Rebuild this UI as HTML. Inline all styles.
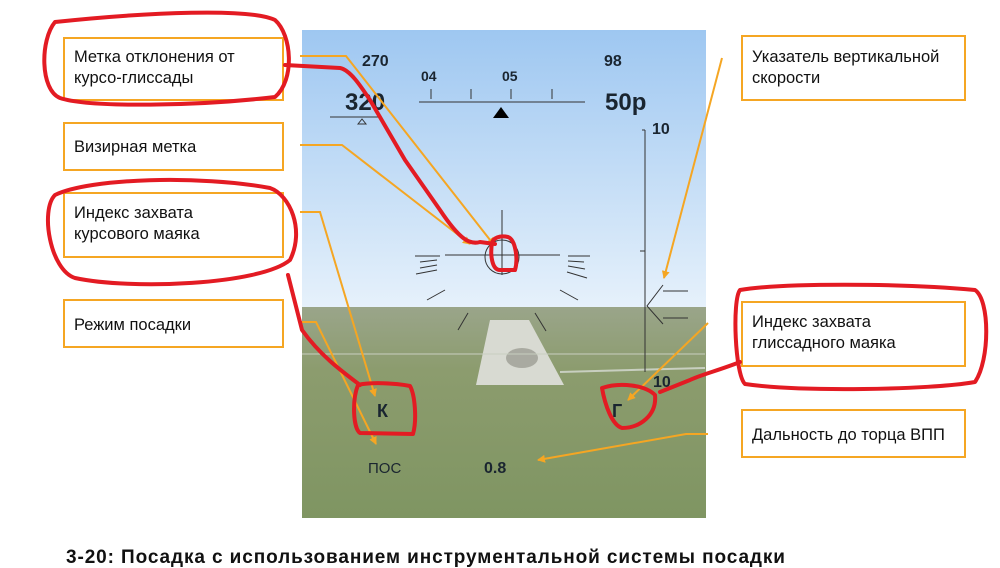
<!DOCTYPE html>
<html><head><meta charset="utf-8"><style>
body{margin:0;width:1000px;height:568px;background:#fff;overflow:hidden;font-family:"Liberation Sans","DejaVu Sans",sans-serif}
svg{position:absolute;left:0;top:0}
</style></head><body>
<svg width="1000" height="568" viewBox="0 0 1000 568">
<defs>
<linearGradient id="sky" x1="0" y1="0" x2="0" y2="1">
<stop offset="0" stop-color="#9ec7f1"/><stop offset="1" stop-color="#e6f1fb"/></linearGradient>
<linearGradient id="gr" x1="0" y1="0" x2="0" y2="1">
<stop offset="0" stop-color="#9aa58a"/><stop offset="0.3" stop-color="#8c9c6e"/><stop offset="1" stop-color="#7f9562"/></linearGradient>
<marker id="ar" markerWidth="8" markerHeight="8" refX="7" refY="4" orient="auto" markerUnits="userSpaceOnUse"><path d="M0,0L8,4L0,8z" fill="#f5a623"/></marker>
</defs>
<rect x="302" y="30" width="404" height="278" fill="url(#sky)"/>
<rect x="302" y="307" width="404" height="211" fill="url(#gr)"/>
<polygon points="476,385 490,320 529,320 564,385" fill="#d8dad2"/>
<ellipse cx="522" cy="358" rx="16" ry="10" fill="#8a8a80" opacity="0.6"/>
<line x1="302" y1="354" x2="705" y2="354" stroke="#c8cfc0" stroke-width="1"/>
<line x1="560" y1="372" x2="705" y2="368" stroke="#c8cfc0" stroke-width="2"/>
<g fill="#1a2530" font-family="Liberation Sans,sans-serif" font-weight="bold">
<text x="362" y="66" font-size="16">270</text>
<text x="604" y="66" font-size="16">98</text>
<text x="421" y="81" font-size="14">04</text>
<text x="502" y="81" font-size="14">05</text>
<text x="345" y="110" font-size="24">320</text>
<text x="605" y="110" font-size="24">50p</text>
<text x="652" y="134" font-size="16">10</text>
<text x="653" y="387" font-size="16">10</text>
<text x="377" y="417" font-size="18">К</text>
<text x="612" y="417" font-size="18">Г</text>
<text x="368" y="473" font-size="15" font-weight="normal">ПОС</text>
<text x="484" y="473" font-size="16">0.8</text>
</g>
<g stroke="#333" stroke-width="1" fill="none">
<line x1="419" y1="102" x2="585" y2="102"/>
<line x1="431" y1="89" x2="431" y2="99"/><line x1="471" y1="89" x2="471" y2="99"/>
<line x1="511" y1="89" x2="511" y2="99"/><line x1="552" y1="89" x2="552" y2="99"/>
<line x1="330" y1="117" x2="380" y2="117"/>
<line x1="642" y1="130" x2="645" y2="130"/><line x1="645" y1="130" x2="645" y2="372"/>
<line x1="640" y1="251" x2="645" y2="251"/>
<path d="M663,285 L647,306 L663,324 M663,291 L688,291 M663,318 L688,318"/>
<line x1="502" y1="210" x2="502" y2="275"/>
<line x1="445" y1="255" x2="560" y2="255"/>
<circle cx="502" cy="257" r="17"/>
<line x1="415" y1="256" x2="440" y2="256"/><line x1="420" y1="262" x2="437" y2="260"/><line x1="420" y1="268" x2="437" y2="265"/><line x1="416" y1="274" x2="437" y2="270"/>
<line x1="568" y1="256" x2="590" y2="256"/><line x1="568" y1="261" x2="584" y2="262"/><line x1="568" y1="266" x2="585" y2="269"/><line x1="567" y1="272" x2="587" y2="278"/>
<line x1="427" y1="300" x2="445" y2="290"/><line x1="560" y1="290" x2="578" y2="300"/>
<line x1="458" y1="330" x2="468" y2="313"/><line x1="535" y1="313" x2="546" y2="331"/>
</g>
<polygon points="493,118 501,107 509,118" fill="#000"/>
<polygon points="358,124 362,119 366,124" fill="none" stroke="#333"/>
<g fill="#fff" stroke="#f5a623" stroke-width="2">
<rect x="64" y="38" width="219" height="62"/>
<rect x="64" y="123" width="219" height="47"/>
<rect x="64" y="193" width="219" height="64"/>
<rect x="64" y="300" width="219" height="47"/>
<rect x="742" y="36" width="223" height="64"/>
<rect x="742" y="302" width="223" height="64"/>
<rect x="742" y="410" width="223" height="47"/>
</g>
<g font-size="16.5" fill="#111">
<text x="74" y="62">Метка отклонения от</text><text x="74" y="83">курсо-глиссады</text>
<text x="74" y="152">Визирная метка</text>
<text x="74" y="218">Индекс захвата</text><text x="74" y="239">курсового маяка</text>
<text x="74" y="330">Режим посадки</text>
<text x="752" y="62">Указатель вертикальной</text><text x="752" y="83">скорости</text>
<text x="752" y="327">Индекс захвата</text><text x="752" y="348">глиссадного маяка</text>
<text x="752" y="440">Дальность до торца ВПП</text>
</g>
<g stroke="#f5a623" stroke-width="2" fill="none" marker-end="url(#ar)">
<path d="M300,56 L346,56 L494,245"/>
<path d="M300,145 L342,145 L470,244"/>
<path d="M300,212 L320,212 L375,396"/>
<path d="M300,322 L316,322 L376,444"/>
<path d="M722,58 L664,278"/>
<path d="M708,323 L628,400"/>
<path d="M708,434 L686,434 L538,460"/>
</g>
<g stroke="#e31b23" stroke-width="4" fill="none" stroke-linejoin="round" stroke-linecap="round">
<path d="M55,22 C40,40 40,90 60,98 C90,108 200,106 275,97 C295,80 292,35 275,20 C250,8 150,12 55,22 Z"/>
<path d="M285,65 L340,68 C350,70 360,85 370,100 L405,160 L440,210 C460,240 470,245 480,242 L495,244"/>
<path d="M492,243 C490,255 492,270 500,270 L515,270 C518,260 516,240 508,237 C500,235 493,238 492,243Z"/>
<path d="M55,195 C40,210 50,270 75,278 C130,290 260,285 290,260 C305,230 290,195 270,188 C200,175 90,178 55,195Z"/>
<path d="M288,275 L302,330 C320,355 340,370 360,385"/>
<path d="M358,385 C352,400 353,428 360,433 L413,434 C417,420 415,395 410,386 C395,383 370,382 358,385Z"/>
<path d="M740,290 C732,300 735,375 745,384 C800,392 930,390 975,382 C990,360 990,300 975,290 C900,283 780,283 740,290Z"/>
<path d="M740,362 C720,370 700,375 690,380 L660,392"/>
<path d="M602,388 C605,405 612,425 622,428 C640,428 657,415 655,395 C645,385 620,382 602,388Z"/>
</g>
<text x="66" y="563" font-size="19" letter-spacing="0.9" font-weight="bold" fill="#111">3-20: Посадка с использованием инструментальной системы посадки</text>
</svg>
</body></html>
